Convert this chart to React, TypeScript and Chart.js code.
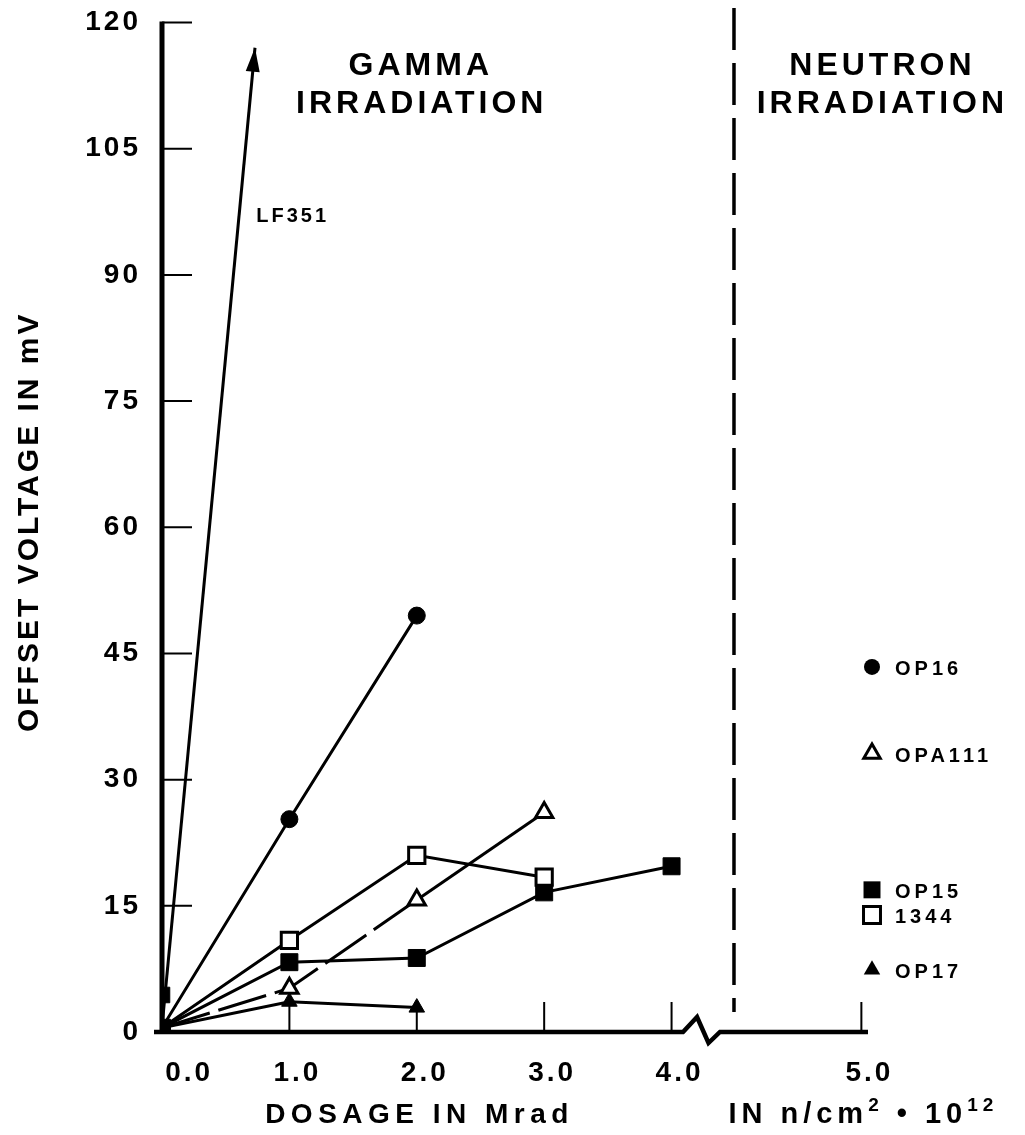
import React, { useEffect, useRef } from 'react';
import { Chart, registerables } from 'chart.js';

Chart.register(...registerables);

const FONT = '"Liberation Sans", Arial, Helvetica, sans-serif';

// ---- data ----
const yTickValues = [0, 15, 30, 45, 60, 75, 90, 105, 120];
const xTickLabels = ['0.0', '1.0', '2.0', '3.0', '4.0', '5.0'];
// axis positions of the tick labels (the neutron "5.0" sits beyond the axis break)
const xTickLabelPos = [0.15, 1, 2, 3, 4, 5.49];
const xTickMarkPos = [1, 2, 3, 4, 5.49];
const BREAK_POS = 4.49; // dashed gamma / neutron separator

const lf351Dose = [0, 0.73];
const lf351 = [0.6, 117];
const op16Dose = [0, 1, 2];
const op16 = [0.5, 25.3, 49.5];
const opa111Dose = [0, 1, 2, 3];
const opa111 = [0.5, 5.2, 15.7, 26.1];
const ic1344Dose = [0, 1, 2, 3];
const ic1344 = [0.5, 10.9, 21.0, 18.4];
const op15Dose = [0, 1, 2, 3, 4];
const op15 = [0.5, 8.3, 8.8, 16.6, 19.7];
const op17Dose = [0, 1, 2];
const op17 = [0.5, 3.6, 2.9];
const zeroDoseDose = [0];
const zeroDose = [4.4];

const legendNames = ['OP16', 'OPA111', 'OP15', '1344', 'OP17'];
const legendStyles = ['circle', 'triangle', 'rect', 'rect', 'triangle'];
const legendFills = ['#000', '#fff', '#000', '#fff', '#000'];
const legendRowsAtMv = [43.4, 33.1, 16.9, 13.9, 7.4];

const X_MAX = 5.542;

function pts(xs: number[], ys: number[]) {
  return ys.map((y, i) => ({ x: xs[i], y }));
}

function series(label: string, xs: number[], ys: number[], style: string, fill: string, radius: number, extra: any = {}) {
  return {
    label,
    data: pts(xs, ys),
    borderColor: '#000',
    borderWidth: 3,
    pointStyle: style,
    pointBackgroundColor: fill,
    pointBorderColor: '#000',
    pointBorderWidth: fill === '#fff' ? 3 : 1,
    pointRadius: (c: any) => (c.dataIndex === 0 ? 0 : radius),
    pointHoverRadius: (c: any) => (c.dataIndex === 0 ? 0 : radius),
    tension: 0,
    fill: false,
    ...extra,
  };
}

function drawMarker(ctx: CanvasRenderingContext2D, style: string, fill: string, x: number, y: number, r: number) {
  ctx.save();
  ctx.fillStyle = fill;
  ctx.strokeStyle = '#000';
  ctx.lineWidth = 3;
  ctx.beginPath();
  if (style === 'circle') {
    ctx.arc(x, y, r, 0, Math.PI * 2);
  } else if (style === 'rect') {
    const s = r * Math.SQRT1_2;
    ctx.rect(x - s, y - s, 2 * s, 2 * s);
  } else {
    let a = 0;
    ctx.moveTo(x + Math.sin(a) * r, y - Math.cos(a) * r);
    a += (2 * Math.PI) / 3;
    ctx.lineTo(x + Math.sin(a) * r, y - Math.cos(a) * r);
    a += (2 * Math.PI) / 3;
    ctx.lineTo(x + Math.sin(a) * r, y - Math.cos(a) * r);
    ctx.closePath();
  }
  ctx.fill();
  if (fill === '#fff') ctx.stroke();
  ctx.restore();
}

function txt(ctx: CanvasRenderingContext2D, s: string, x: number, cy: number, size: number, align: CanvasTextAlign = 'left', spacing = 0) {
  ctx.save();
  ctx.font = `bold ${size}px ${FONT}`;
  (ctx as any).letterSpacing = `${spacing}px`;
  ctx.textAlign = align;
  ctx.textBaseline = 'alphabetic';
  ctx.fillStyle = '#000';
  let dx = 0;
  if (align === 'center') dx = spacing / 2;
  ctx.fillText(s, x + dx, cy + 0.36 * size);
  ctx.restore();
}

const decor = {
  id: 'decor',
  beforeLayout(chart: any) {
    chart.ctx.letterSpacing = '3px';
  },
  beforeDraw(chart: any) {
    chart.ctx.letterSpacing = '3px';
  },
  beforeDatasetsDraw(chart: any) {
    const ctx: CanvasRenderingContext2D = chart.ctx;
    const xs = chart.scales.x;
    const ys = chart.scales.y;
    const px = (v: number) => xs.getPixelForValue(v);
    const py = (v: number) => ys.getPixelForValue(v);
    const x0 = px(0);
    const y0 = py(0);
    ctx.save();
    ctx.strokeStyle = '#000';
    ctx.lineCap = 'butt';
    // y axis
    ctx.lineWidth = 5;
    ctx.beginPath();
    ctx.moveTo(x0, y0 + 2);
    ctx.lineTo(x0, py(120) - 1);
    ctx.stroke();
    // y ticks (inward)
    ctx.lineWidth = 2;
    ctx.beginPath();
    yTickValues.forEach((v) => {
      if (v === 0) return;
      ctx.moveTo(x0, py(v));
      ctx.lineTo(x0 + 30, py(v));
    });
    ctx.stroke();
    // x axis with break
    ctx.lineWidth = 4.5;
    ctx.lineJoin = 'miter';
    ctx.beginPath();
    ctx.moveTo(x0 - 8, y0);
    ctx.lineTo(px(4.09), y0);
    ctx.lineTo(px(4.2), y0 - 15);
    ctx.lineTo(px(4.29), y0 + 11);
    ctx.lineTo(px(4.38), y0);
    ctx.lineTo(chart.chartArea.right, y0);
    ctx.stroke();
    // x ticks (inward)
    ctx.lineWidth = 2;
    ctx.beginPath();
    xTickMarkPos.forEach((v) => {
      ctx.moveTo(px(v), y0);
      ctx.lineTo(px(v), y0 - 30);
    });
    ctx.stroke();
    // dashed separator
    ctx.lineWidth = 3.5;
    ctx.setLineDash([42, 13]);
    ctx.beginPath();
    ctx.moveTo(px(BREAK_POS), 0);
    ctx.lineTo(px(BREAK_POS), y0 - 20);
    ctx.stroke();
    ctx.restore();
  },
  afterDatasetsDraw(chart: any) {
    const ctx: CanvasRenderingContext2D = chart.ctx;
    const meta = chart.getDatasetMeta(0);
    const a = meta.data[0];
    const b = meta.data[1];
    const ang = Math.atan2(b.y - a.y, b.x - a.x);
    const L = 24;
    const W = 7;
    ctx.save();
    ctx.fillStyle = '#000';
    ctx.beginPath();
    ctx.moveTo(b.x, b.y);
    ctx.lineTo(b.x - L * Math.cos(ang) + W * Math.sin(ang), b.y - L * Math.sin(ang) - W * Math.cos(ang));
    ctx.lineTo(b.x - L * Math.cos(ang) - W * Math.sin(ang), b.y - L * Math.sin(ang) + W * Math.cos(ang));
    ctx.closePath();
    ctx.fill();
    ctx.restore();
  },
  afterDraw(chart: any) {
    const ctx: CanvasRenderingContext2D = chart.ctx;
    const xs = chart.scales.x;
    const ys = chart.scales.y;
    const px = (v: number) => xs.getPixelForValue(v);
    const py = (v: number) => ys.getPixelForValue(v);
    // region titles
    txt(ctx, 'GAMMA', px(2) + 2, 55, 32, 'center', 4);
    txt(ctx, 'IRRADIATION', px(2) + 3, 93, 32, 'center', 4);
    txt(ctx, 'NEUTRON', px(5.49) + 19, 55, 32, 'center', 4);
    txt(ctx, 'IRRADIATION', px(5.49) + 19, 93, 32, 'center', 4);
    // LF351 label
    txt(ctx, 'LF351', px(0.74), py(97.1), 20, 'left', 3);
    // legend
    legendNames.forEach((n, i) => {
      const y = py(legendRowsAtMv[i]);
      const r = legendStyles[i] === 'rect' ? 12 : legendStyles[i] === 'triangle' ? 9.5 : 8;
      drawMarker(ctx, legendStyles[i], legendFills[i], chart.chartArea.right + 4, y, r);
      txt(ctx, n, chart.chartArea.right + 27, y + 1, 20, 'left', 4);
    });
    // y axis title
    ctx.save();
    ctx.translate(19, (py(0) + py(120)) / 2 - 4);
    ctx.rotate(-Math.PI / 2);
    txt(ctx, 'OFFSET VOLTAGE IN mV', 0, 0, 30, 'center', 3);
    ctx.restore();
    // x axis titles
    const ty = 1105;
    txt(ctx, 'DOSAGE IN Mrad', px(2), ty, 28, 'center', 5.5);
    // neutron unit title with superscripts
    ctx.save();
    (ctx as any).letterSpacing = '5px';
    const big = `bold 29px ${FONT}`;
    const small = `bold 19px ${FONT}`;
    const parts: [string, string, number][] = [
      ['IN n/cm', big, 0],
      ['2', small, -12],
      [' \u2022 10', big, 0],
      ['12', small, -12],
    ];
    let total = 0;
    parts.forEach(([s, f]) => {
      ctx.font = f;
      total += ctx.measureText(s).width;
    });
    let x = px(5.49) - total / 2 + 2;
    ctx.fillStyle = '#000';
    ctx.textAlign = 'left';
    ctx.textBaseline = 'alphabetic';
    parts.forEach(([s, f, dy]) => {
      ctx.font = f;
      ctx.fillText(s, x, ty + 0.36 * 29 + dy);
      x += ctx.measureText(s).width;
    });
    ctx.restore();
  },
};

export default function App() {
  const ref = useRef<HTMLCanvasElement>(null);
  useEffect(() => {
    const canvas = ref.current;
    if (!canvas) return;
    Chart.defaults.font.family = FONT;
    const chart = new Chart(canvas, {
      type: 'line',
      data: {
        datasets: [
          series('LF351', lf351Dose, lf351, 'circle', '#000', 0),
          series('OP16', op16Dose, op16, 'circle', '#000', 8.5),
          series('OPA111', opa111Dose, opa111, 'triangle', '#fff', 10, {
            segment: { borderDash: (c: any) => (c.p0DataIndex < 2 ? [50, 9] : undefined) },
          }),
          series('1344', ic1344Dose, ic1344, 'rect', '#fff', 11.5),
          series('OP15', op15Dose, op15, 'rect', '#000', 12, {
            pointRadius: 12,
            pointHoverRadius: 12,
          }),
          series('OP17', op17Dose, op17, 'triangle', '#000', 9),
          {
            label: 'zero dose',
            data: pts(zeroDoseDose, zeroDose),
            showLine: false,
            pointStyle: 'rect',
            pointRadius: 11,
            pointBackgroundColor: '#000',
            pointBorderColor: '#000',
            borderColor: '#000',
          },
        ] as any,
      },
      options: {
        responsive: false,
        animation: false,
        events: [],
        layout: { padding: { left: 0, top: 14, right: 149, bottom: 0 } },
        plugins: { legend: { display: false }, tooltip: { enabled: false } },
        scales: {
          x: {
            type: 'linear',
            min: 0,
            max: X_MAX,
            grid: { display: false, drawTicks: false },
            border: { display: false },
            afterFit: (s: any) => {
              s.height = 95;
              s.paddingLeft = 0;
              s.paddingRight = 0;
              s.paddingTop = 0;
              s.paddingBottom = 0;
            },
            afterBuildTicks: (s: any) => {
              s.ticks = xTickLabelPos.map((v) => ({ value: v }));
            },
            ticks: {
              autoSkip: false,
              maxRotation: 0,
              minRotation: 0,
              padding: 24,
              labelOffset: 8,
              color: '#000',
              font: { size: 28, weight: 'bold', family: FONT },
              callback: (_v: any, i: number) => xTickLabels[i],
            },
          },
          y: {
            type: 'linear',
            min: 0,
            max: 120,
            grid: { display: false, drawTicks: false },
            border: { display: false },
            afterFit: (s: any) => {
              s.width = 154;
              s.paddingLeft = 0;
              s.paddingRight = 0;
              s.paddingTop = 0;
              s.paddingBottom = 0;
            },
            afterBuildTicks: (s: any) => {
              s.ticks = yTickValues.map((v) => ({ value: v }));
            },
            ticks: {
              padding: 21,
              color: '#000',
              font: { size: 28, weight: 'bold', family: FONT },
              callback: (v: any) => String(v),
            },
          },
        },
      } as any,
      plugins: [decor as any],
    });
    return () => chart.destroy();
  }, []);
  return <canvas ref={ref} width={1009} height={1119} style={{ display: 'block' }} />;
}
